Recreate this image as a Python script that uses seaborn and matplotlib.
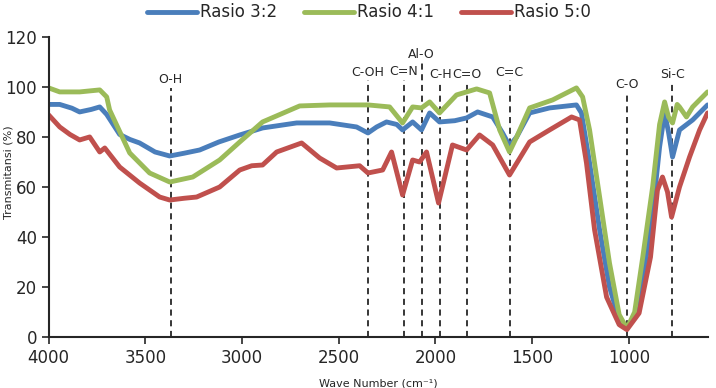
import pandas as pd
import matplotlib
matplotlib.use("Agg")
import matplotlib.pyplot as plt
import seaborn as sns

# ---- data ----
wn_32 = [4000, 3943, 3880, 3840, 3780, 3736, 3700, 3633, 3580, 3530, 3450, 3374, 3300, 3219, 3120,
         3012, 2894, 2718, 2547, 2408, 2349, 2304, 2253, 2200, 2170, 2118, 2072, 2030, 1979, 1900,
         1839, 1782, 1704, 1653, 1617, 1580, 1513, 1410, 1271, 1245, 1203, 1151, 1100, 1050, 1010,
         970, 928, 877, 841, 815, 795, 774, 738, 670, 593]
t_32 = [93, 93, 91.5, 90, 91, 92, 89, 81, 79, 77.6, 74, 72.4, 73.5, 74.8, 78,
        80.8, 83.6, 85.6, 85.6, 84, 81.6, 84, 86, 85, 82.8, 86, 82.8, 89.6, 86, 86.5,
        87.6, 90, 88, 81.6, 76.5, 80, 89.6, 91.6, 92.8, 89.6, 69.6, 42.8, 20, 7, 3.6,
        8, 22.8, 49.6, 76, 89.6, 82, 72, 82.8, 86.8, 92.8]

wn_41 = [4000, 3943, 3840, 3736, 3700, 3685, 3581, 3478, 3374, 3255, 3116, 3012, 2894, 2702, 2547,
         2349, 2237, 2170, 2118, 2072, 2030, 1979, 1891, 1787, 1720, 1668, 1617, 1580, 1513, 1394,
         1271, 1239, 1203, 1151, 1100, 1050, 1010, 970, 928, 877, 841, 815, 795, 774, 750,
         738, 702, 670, 593]
t_41 = [99.6, 98, 98, 98.8, 96, 90.8, 73.6, 65.6, 62, 64, 70.8, 78, 86, 92.4, 92.8,
        92.8, 92, 85.6, 92, 91.6, 94, 89.6, 96.8, 99.2, 97.6, 82.8, 74, 80, 91.6, 94.8,
        99.6, 96, 82.8, 56, 29.6, 9, 3.5, 10, 32, 60, 85, 94, 88, 85.6, 93,
        92, 88, 92, 98]

wn_50 = [4000, 3943, 3890, 3840, 3788, 3736, 3710, 3633, 3530, 3426, 3374, 3300, 3235, 3116, 3012,
         2950, 2894, 2821, 2692, 2599, 2511, 2392, 2349, 2273, 2227, 2170, 2118, 2082, 2046, 1984,
         1912, 1839, 1772, 1704, 1617, 1513, 1410, 1296, 1255, 1219, 1177, 1115, 1050, 1010, 947,
         888, 852, 826, 800, 779, 738, 686, 634, 593]
t_50 = [88.8, 84, 81, 78.8, 80, 74, 75.6, 68, 61.6, 56, 54.8, 55.5, 56, 60, 66.8,
        68.5, 68.8, 74, 77.6, 71.6, 67.6, 68.5, 65.6, 66.8, 74, 56.8, 70.8, 70, 74, 53.6,
        76.8, 74.8, 80.8, 76.8, 64.8, 78, 82.8, 88, 86.8, 69.6, 42.8, 16, 5, 3, 9.6,
        32, 58.8, 64, 58, 48, 60, 72, 82.8, 89.6]

series_names = ["Rasio 3:2", "Rasio 4:1", "Rasio 5:0"]
colors = ["#4A7EBB", "#9BBB59", "#C0504D"]

# functional group markers: label, wavenumber, label height, line top
groups = ["O-H", "C-OH", "C=N", "Al-O", "C-H", "C=O", "C=C", "C-O", "Si-C"]
group_wn = [3370, 2350, 2165, 2072, 1975, 1835, 1617, 1010, 775]
label_y = [102.8, 105.6, 106, 112.8, 104.8, 104.8, 105.6, 100.8, 104.8]
line_top = [99.6, 102.6, 102.6, 110, 101.6, 101.6, 102.6, 98, 102]

df = pd.concat([
    pd.DataFrame({"wn": wn_32, "T": t_32, "Sampel": series_names[0]}),
    pd.DataFrame({"wn": wn_41, "T": t_41, "Sampel": series_names[1]}),
    pd.DataFrame({"wn": wn_50, "T": t_50, "Sampel": series_names[2]}),
])

sns.set_style("ticks")
fig = plt.figure(figsize=(7.16, 3.88), dpi=100)
ax = fig.add_axes([0.068, 0.131, 0.921, 0.774])

sns.lineplot(data=df, x="wn", y="T", hue="Sampel", palette=colors, sort=False,
             linewidth=3.5, ax=ax, legend=True)

# dashed marker lines + labels
for lab, w, ly, lt in zip(groups, group_wn, label_y, line_top):
    ax.plot([w, w], [0, lt], color="black", linestyle=(0, (4, 3)), linewidth=1.1, zorder=1)
    ax.text(w, ly, lab, ha="center", va="center", fontsize=9)

ax.set_xlim(4000, 590)
ax.set_ylim(0, 120)
ax.set_xticks([4000, 3500, 3000, 2500, 2000, 1500, 1000])
ax.set_yticks([0, 20, 40, 60, 80, 100, 120])
ax.tick_params(labelsize=12, length=5, width=1.2)
ax.set_xlabel("Wave Number (cm\u207b\u00b9)", fontsize=8, labelpad=8)
ax.set_ylabel("Transmitansi (%)", fontsize=8)
ax.yaxis.set_label_coords(-0.054, 0.55)
sns.despine(ax=ax)
for side in ["left", "bottom"]:
    ax.spines[side].set_linewidth(1.5)

handles, labels = ax.get_legend_handles_labels()
ax.legend_.remove()
fig.legend(handles, labels, loc="upper center", bbox_to_anchor=(0.515, 1.03), ncol=3,
           frameon=False, fontsize=12, handlelength=3.0, columnspacing=1.6, handletextpad=0.2)

fig.savefig("out.png", dpi=100)
